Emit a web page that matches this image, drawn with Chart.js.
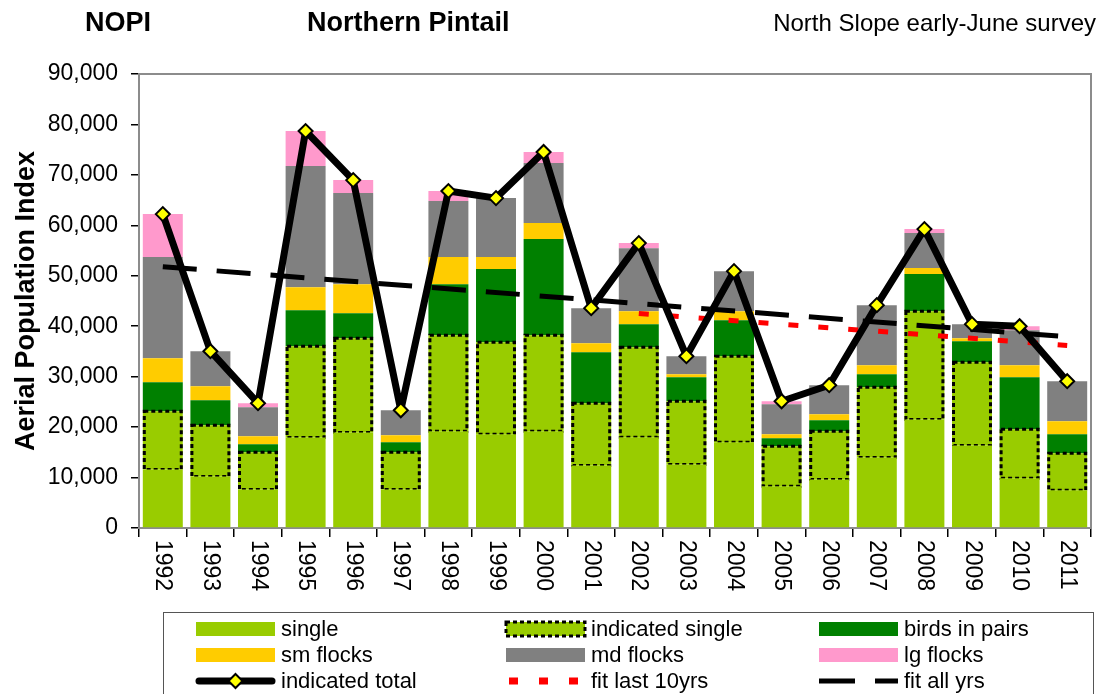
<!DOCTYPE html>
<html>
<head>
<meta charset="utf-8">
<script src="https://cdn.jsdelivr.net/npm/chart.js@4.4.1/dist/chart.umd.min.js"></script>
<style>
  html, body { margin: 0; padding: 0; background: #fff; }
  canvas { display: block; }
</style>
</head>
<body>
<canvas id="c" width="1101" height="694"></canvas>
<script>
// ---- data ----
const years = ['1992','1993','1994','1995','1996','1997','1998','1999','2000','2001',
               '2002','2003','2004','2005','2006','2007','2008','2009','2010','2011'];
const single          = [11580,10190, 7610,17930,18920, 7610,19180,18590,19180,12370,17990,12570,17000, 8270, 9590,13960,21500,16340, 9860, 7480];
const indicatedSingle = [11570,10180, 7410,18110,18710, 7410,19050,18250,19050,12370,17860,12560,17060, 7940, 9590,13950,21490,16530, 9720, 7340];
const birdsInPairs    = [ 5750, 4960, 1580, 7150, 4960, 1980,10110,14480,19040,10110, 4560, 4760, 7140, 1580, 2180, 2580, 7340, 4170,10310, 3770];
const smFlocks        = [ 4760, 2780, 1590, 4560, 5750, 1390, 5360, 2380, 3170, 1790, 2580,  600, 1790,  800, 1190, 1790, 1190,  590, 2390, 2580];
const mdFlocks        = [20040, 6940, 5750,24000,18050, 4960,11110,11700,11910, 6940,12490, 3570, 7930, 5950, 5760,11900, 6940, 2780, 6940, 7930];
const lgFlocks        = [ 8530,    0,  800, 6940, 2580,    0, 1980,    0, 2180,    0, 1000,    0,    0,  590,    0,    0,  790,    0,  790,    0];
const indicatedTotal  = [62230,35050,24740,78690,68970,23350,66790,65400,74530,43580,56480,34060,50920,25130,28310,44180,59250,40410,40010,29100];
const fitLast10yrs    = [null,null,null,null,null,null,null,null,null,null,42500,null,null,null,null,null,null,null,null,36200];
const fitAllYrs       = [51800,null,null,null,null,null,null,null,null,null,null,null,null,null,null,null,null,null,null,37900];
const yMin = 0, yMax = 90000, yStep = 10000;

const FONT = "'Liberation Sans', Arial, sans-serif";
const C_SINGLE = '#99CC00', C_PAIRS = '#008000', C_SM = '#FFCC00', C_MD = '#808080', C_LG = '#FF99CC';

// ---- plugins ----
const headerPlugin = {
  id: 'header',
  afterDraw(chart) {
    const ctx = chart.ctx;
    ctx.save();
    ctx.fillStyle = '#000';
    ctx.textBaseline = 'alphabetic';
    ctx.font = 'bold 27px ' + FONT;
    ctx.textAlign = 'left';
    ctx.fillText('NOPI', 85, 31);
    ctx.fillText('Northern Pintail', 307, 31);
    ctx.font = '24px ' + FONT;
    ctx.textAlign = 'right';
    ctx.fillText('North Slope early-June survey', 1096, 31);
    ctx.restore();
  }
};

const frameAndDashPlugin = {
  id: 'frameDash',
  beforeDatasetsDraw(chart) {
    const a = chart.chartArea, ctx = chart.ctx;
    ctx.save();
    ctx.strokeStyle = '#8c8c8c';
    ctx.lineWidth = 2;
    ctx.strokeRect(a.left, a.top, a.right - a.left, a.bottom - a.top);
    ctx.restore();
  },
  afterDatasetDraw(chart, args) {
    if (args.index !== 1) return;
    const ctx = chart.ctx;
    const meta = chart.getDatasetMeta(1);
    ctx.save();
    ctx.strokeStyle = '#000';
    ctx.lineWidth = 3;
    ctx.setLineDash([4, 3]);
    meta.data.forEach(el => {
      const p = el.getProps(['x', 'y', 'base', 'width'], true);
      const l = p.x - p.width / 2 + 1.5, r = p.x + p.width / 2 - 1.5;
      ctx.strokeRect(l, p.y, r - l, p.base - p.y);
    });
    ctx.restore();
  }
};

const xLabelPlugin = {
  id: 'xLabels',
  afterDraw(chart) {
    const xs = chart.scales.x, ctx = chart.ctx;
    ctx.save();
    ctx.fillStyle = '#000';
    ctx.font = '23px ' + FONT;
    ctx.textAlign = 'left';
    ctx.textBaseline = 'middle';
    chart.data.labels.forEach((lab, i) => {
      const x = xs.getPixelForTick(i);
      ctx.save();
      ctx.translate(x, xs.top + 12);
      ctx.rotate(Math.PI / 2);
      ctx.fillText(lab, 0, 0);
      ctx.restore();
    });
    ctx.restore();
  }
};

const legendPlugin = {
  id: 'gridLegend',
  afterDraw(chart) {
    const ctx = chart.ctx;
    const ds = chart.data.datasets;
    const byLabel = {};
    ds.forEach(d => byLabel[d.label] = d);
    const order = [
      ['single', 'indicated single', 'birds in pairs'],
      ['sm flocks', 'md flocks', 'lg flocks'],
      ['indicated total', 'fit last 10yrs', 'fit all yrs']
    ];
    const colX = [196, 506, 819];
    const rowY = [629, 655, 681];
    const sw = 79, sh = 14;
    ctx.save();
    ctx.strokeStyle = '#555';
    ctx.lineWidth = 1;
    ctx.strokeRect(163.5, 612.5, 930, 100);
    ctx.font = '22px ' + FONT;
    ctx.textBaseline = 'middle';
    ctx.textAlign = 'left';
    order.forEach((row, r) => {
      row.forEach((label, c) => {
        const d = byLabel[label];
        const x = colX[c], y = rowY[r];
        ctx.save();
        if (label === 'indicated total') {
          ctx.strokeStyle = '#000'; ctx.lineWidth = 7; ctx.lineCap = 'round';
          ctx.beginPath(); ctx.moveTo(x + 3, y); ctx.lineTo(x + sw - 3, y); ctx.stroke();
          ctx.fillStyle = d.pointBackgroundColor; ctx.lineWidth = 2; ctx.lineCap = 'butt';
          const cx = x + sw / 2, rr = 7;
          ctx.beginPath(); ctx.moveTo(cx, y - rr); ctx.lineTo(cx + rr, y); ctx.lineTo(cx, y + rr); ctx.lineTo(cx - rr, y); ctx.closePath();
          ctx.fill(); ctx.stroke();
        } else if (label === 'fit last 10yrs' || label === 'fit all yrs') {
          ctx.strokeStyle = d.borderColor;
          if (label === 'fit last 10yrs') { ctx.lineWidth = 7; ctx.setLineDash([9, 21]); ctx.beginPath(); ctx.moveTo(x + 3, y); ctx.lineTo(x + sw, y); ctx.stroke(); }
          else { ctx.lineWidth = 5; ctx.setLineDash([36, 20]); ctx.beginPath(); ctx.moveTo(x, y); ctx.lineTo(x + sw, y); ctx.stroke(); }
        } else {
          ctx.fillStyle = d.backgroundColor;
          ctx.fillRect(x, y - sh / 2, sw, sh);
          if (label === 'indicated single') {
            ctx.strokeStyle = '#000'; ctx.lineWidth = 3; ctx.setLineDash([4, 3]);
            ctx.strokeRect(x, y - sh / 2, sw, sh);
          }
        }
        ctx.restore();
        ctx.fillStyle = '#000';
        ctx.fillText(label, x + sw + 6, y + 1);
      });
    });
    ctx.restore();
  }
};

// ---- chart ----
const barDs = (label, data, color) => ({
  type: 'bar', label, data, backgroundColor: color, borderWidth: 0,
  stack: 'bars', order: 2, barPercentage: 0.84, categoryPercentage: 1.0
});

new Chart(document.getElementById('c'), {
  data: {
    labels: years,
    datasets: [
      barDs('single', single, C_SINGLE),
      barDs('indicated single', indicatedSingle, C_SINGLE),
      barDs('birds in pairs', birdsInPairs, C_PAIRS),
      barDs('sm flocks', smFlocks, C_SM),
      barDs('md flocks', mdFlocks, C_MD),
      barDs('lg flocks', lgFlocks, C_LG),
      {
        type: 'line', label: 'indicated total', data: indicatedTotal, order: 0, stack: 'total',
        borderColor: '#000', borderWidth: 7, tension: 0,
        pointStyle: 'rectRot', pointRadius: 7, pointBackgroundColor: '#FFFF00',
        pointBorderColor: '#000', pointBorderWidth: 2, borderJoinStyle: 'round'
      },
      {
        type: 'line', label: 'fit last 10yrs', data: fitLast10yrs, order: 1, stack: 'fit10', spanGaps: true,
        borderColor: '#FF0000', borderWidth: 5, borderDash: [10, 20], pointRadius: 0, tension: 0
      },
      {
        type: 'line', label: 'fit all yrs', data: fitAllYrs, order: 1, stack: 'fitall', spanGaps: true,
        borderColor: '#000', borderWidth: 5, borderDash: [34, 20], pointRadius: 0, tension: 0
      }
    ]
  },
  options: {
    responsive: false,
    devicePixelRatio: 1,
    animation: false,
    layout: { padding: { top: 74, right: 10, left: 0, bottom: 0 } },
    plugins: { legend: { display: false }, tooltip: { enabled: false }, title: { display: false } },
    scales: {
      x: {
        stacked: true,
        offset: true,
        grid: { offset: true, drawOnChartArea: false, drawTicks: true, tickLength: 9, color: '#000', lineWidth: 1.5 },
        border: { color: '#000', width: 2 },
        ticks: { display: false },
        afterFit(s) { s.height = 166; }
      },
      y: {
        stacked: true,
        min: yMin, max: yMax,
        ticks: {
          stepSize: yStep, color: '#000', padding: 13,
          font: { family: FONT, size: 23 },
          callback: v => Number(v).toLocaleString('en-US')
        },
        grid: { drawOnChartArea: false, drawTicks: true, tickLength: 8, color: '#000', lineWidth: 1.5 },
        border: { color: '#000', width: 2 },
        title: {
          display: true, text: 'Aerial Population Index', color: '#000',
          font: { family: FONT, size: 27, weight: 'bold' }, padding: { top: 10, bottom: 0 }
        },
        afterFit(s) { s.width = 139; }
      }
    }
  },
  plugins: [headerPlugin, frameAndDashPlugin, xLabelPlugin, legendPlugin]
});
</script>
</body>
</html>
